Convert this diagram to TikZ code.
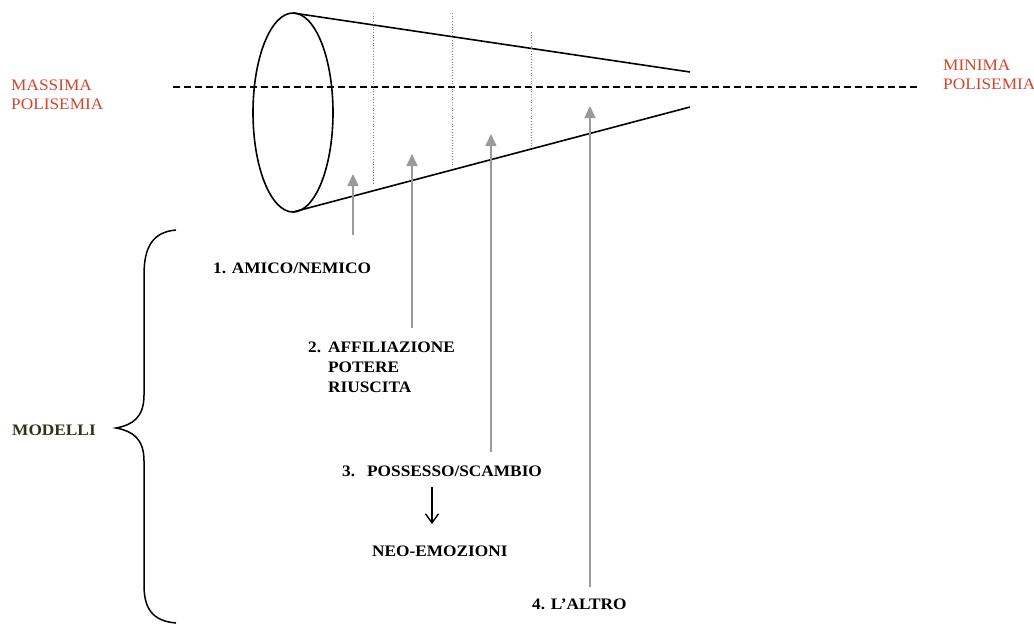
\documentclass[tikz,border=0pt]{standalone}
\usepackage{fontspec}
\setmainfont{Liberation Serif}[FakeStretch=1.08]
\usetikzlibrary{arrows.meta}
\definecolor{polired}{HTML}{D2452A}
\definecolor{olive}{HTML}{33331A}
\definecolor{arrowgray}{HTML}{9A9A9A}
\tikzset{
  conestroke/.style={line width=1.6pt, black},
  axisline/.style={line width=1.3pt, dash pattern=on 7pt off 4pt},
  dotline/.style={line width=0.7pt, gray, dotted},
  grayarrow/.style={line width=1.7pt, arrowgray, -{Triangle[width=11pt,length=12pt]}},
  lbl/.style={inner sep=0pt, anchor=west, font=\fontsize{16}{20}\selectfont\bfseries},
  redlbl/.style={inner sep=0pt, anchor=west, align=left, text=polired, font=\fontsize{16}{19}\selectfont},
}
\begin{document}
\begin{tikzpicture}[x=1pt,y=-1pt]
\useasboundingbox (0,0) rectangle (1034,625);
% cone
\coordinate (tl) at (293,13);
\coordinate (bl) at (293,212);
\coordinate (tr) at (690,72);
\coordinate (br) at (690,107);
\draw[conestroke] (293,112.5) ellipse [x radius=40, y radius=99.5];
\draw[conestroke] (tl) -- (tr);
\draw[conestroke] (bl) -- (br);
% axis
\coordinate (axl) at (173,87);
\coordinate (axr) at (917,87);
\draw[axisline] (axl) -- (axr);
% dotted sections
\coordinate (d1t) at (373,13); \coordinate (d1b) at (373,185);
\coordinate (d2t) at (452,13); \coordinate (d2b) at (452,166);
\coordinate (d3t) at (531,32); \coordinate (d3b) at (531,147);
\draw[dotline] (d1t) -- (d1b);
\draw[dotline] (d2t) -- (d2b);
\draw[dotline] (d3t) -- (d3b);
% labels
\node[redlbl] (massima) at (11,95) {MASSIMA\\POLISEMIA};
\node[redlbl] (minima) at (943,75) {MINIMA\\POLISEMIA};
\node[inner sep=0pt, anchor=west, text=olive, font=\fontsize{16}{19}\selectfont\bfseries] (modelli) at (12,430) {MODELLI};
\node[lbl] (m1) at (213,268) {1. AMICO/NEMICO};
\node[lbl, anchor=north west, align=left] (m2) at (308,338) {\begin{tabular}{@{}l@{\hspace{7pt}}l@{}}2.&AFFILIAZIONE\\&POTERE\\&RIUSCITA\end{tabular}};
\node[lbl] (m3) at (342,471) {3.\hspace{12pt}POSSESSO/SCAMBIO};
\node[lbl] (neo) at (372,551) {NEO-EMOZIONI};
\node[lbl] (m4) at (532,604) {4. L'ALTRO};
% gray arrows
\coordinate (a1s) at (353,235); \coordinate (a1e) at (353,174);
\coordinate (a2s) at (412,328); \coordinate (a2e) at (412,154);
\coordinate (a3s) at (491,452); \coordinate (a3e) at (491,134);
\coordinate (a4s) at (590,587); \coordinate (a4e) at (590,106);
\draw[grayarrow] (a1s) -- (a1e);
\draw[grayarrow] (a2s) -- (a2e);
\draw[grayarrow] (a3s) -- (a3e);
\draw[grayarrow] (a4s) -- (a4e);
% black arrow
\coordinate (ba1) at (432,487); \coordinate (ba2) at (432,524);
\draw[line width=1.4pt, -{Straight Barb[width=13pt,length=9pt]}] (ba1) -- (ba2);
% brace
\coordinate (bt) at (176,230);
\coordinate (bb) at (176,623);
\coordinate (btip) at (116,428);
\draw[line width=1.5pt] (bt) .. controls (152,232) and (144,248) .. (144,275)
  -- (144,395) .. controls (144,418) and (132,425) .. (btip)
  .. controls (132,431) and (144,438) .. (144,461)
  -- (144,585) .. controls (144,608) and (152,621) .. (bb);
\end{tikzpicture}
\end{document}
